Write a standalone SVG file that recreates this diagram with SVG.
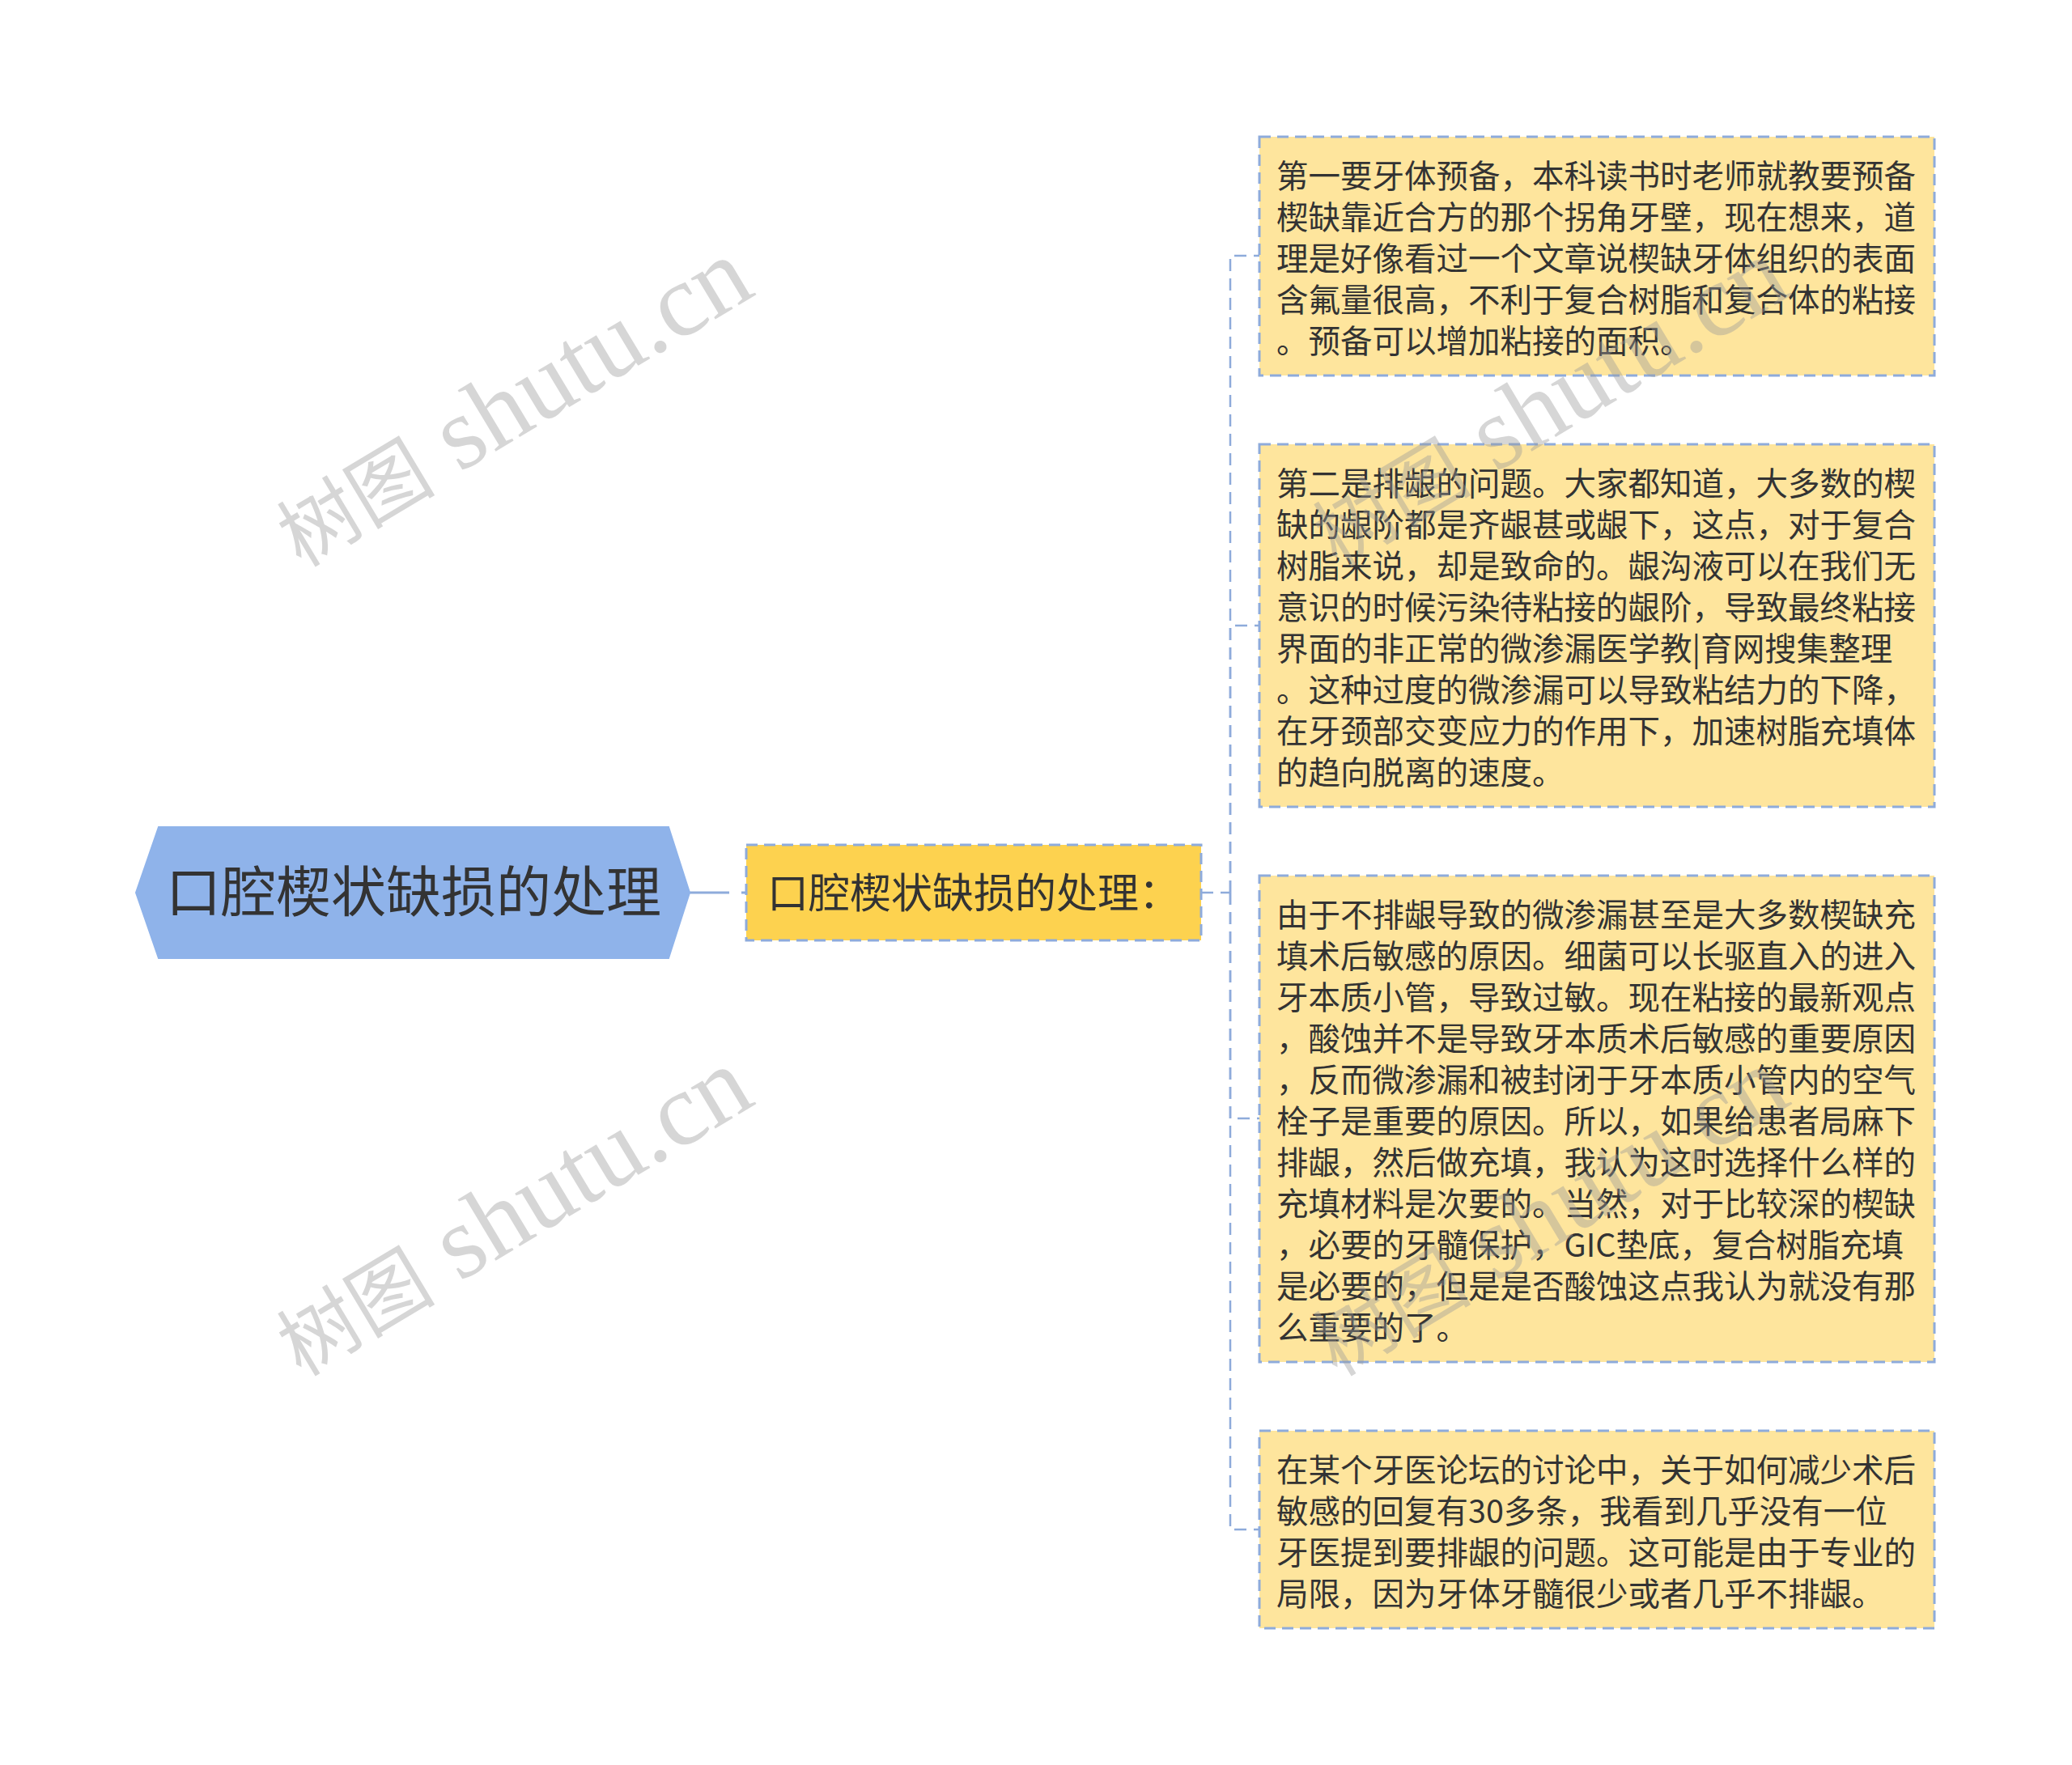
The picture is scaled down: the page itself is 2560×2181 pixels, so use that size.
<svg xmlns="http://www.w3.org/2000/svg" width="2560" height="2181" viewBox="0 0 2560 2181">
<style>
.bg{fill:#ffffff}
.root{fill:#8fb3ea;stroke:#8fb3ea;stroke-width:2}
.mid{fill:#fdd24f;stroke:#8eabdb;stroke-width:3;stroke-dasharray:14 8}
.leaf{fill:#fee59d;stroke:#8eabdb;stroke-width:3;stroke-dasharray:14 8}
.conn{fill:none;stroke:#8eabdb;stroke-width:2.5;stroke-dasharray:15 9}
.t{font-family:"Noto Sans CJK SC","Noto Sans",sans-serif;fill:#333333}
.lt{font-size:39.5px}
.wm{font-family:"Liberation Serif","Noto Sans CJK SC",serif;font-size:128px;fill:#9a9a9a;opacity:0.4}
.wmc{font-family:"Noto Sans CJK SC",serif;font-size:98px}
</style>
<rect class="bg" x="0" y="0" width="2560" height="2181"/>
<g id="connectors">
<path d="M852,1103 H922" fill="none" stroke="#8eabdb" stroke-width="3" stroke-dasharray="49 15"/>
<path class="conn" d="M1484,1103 H1520"/>
<path class="conn" d="M1520,1103 V316 H1556"/>
<path class="conn" d="M1520,1103 V773 H1556"/>
<path class="conn" d="M1520,1103 V1382 H1556"/>
<path class="conn" d="M1520,1103 V1890 H1556"/>
</g>
<g id="root">
<polygon class="root" points="168,1103 196,1022 826,1022 852,1103 826,1184 196,1184"/>
<text class="t" x="511" y="1127" font-size="68" text-anchor="middle">口腔楔状缺损的处理</text>
</g>
<g id="mid">
<rect class="mid" x="922" y="1044" width="562" height="118"/>
<text class="t" x="948" y="1122" font-size="51">口腔楔状缺损的处理：</text>
</g>
<g id="leaf1">
<rect class="leaf" x="1556" y="169" width="834" height="295"/>
<text class="t lt" x="1577" y="232">第一要牙体预备，本科读书时老师就教要预备</text>
<text class="t lt" x="1577" y="283">楔缺靠近合方的那个拐角牙壁，现在想来，道</text>
<text class="t lt" x="1577" y="334">理是好像看过一个文章说楔缺牙体组织的表面</text>
<text class="t lt" x="1577" y="385">含氟量很高，不利于复合树脂和复合体的粘接</text>
<text class="t lt" x="1577" y="436">。预备可以增加粘接的面积。</text>
</g>
<g id="leaf2">
<rect class="leaf" x="1556" y="549" width="834" height="448"/>
<text class="t lt" x="1577" y="612">第二是排龈的问题。大家都知道，大多数的楔</text>
<text class="t lt" x="1577" y="663">缺的龈阶都是齐龈甚或龈下，这点，对于复合</text>
<text class="t lt" x="1577" y="714">树脂来说，却是致命的。龈沟液可以在我们无</text>
<text class="t lt" x="1577" y="765">意识的时候污染待粘接的龈阶，导致最终粘接</text>
<text class="t lt" x="1577" y="816">界面的非正常的微渗漏医学教|育网搜集整理</text>
<text class="t lt" x="1577" y="867">。这种过度的微渗漏可以导致粘结力的下降，</text>
<text class="t lt" x="1577" y="918">在牙颈部交变应力的作用下，加速树脂充填体</text>
<text class="t lt" x="1577" y="969">的趋向脱离的速度。</text>
</g>
<g id="leaf3">
<rect class="leaf" x="1556" y="1082" width="834" height="601"/>
<text class="t lt" x="1577" y="1145">由于不排龈导致的微渗漏甚至是大多数楔缺充</text>
<text class="t lt" x="1577" y="1196">填术后敏感的原因。细菌可以长驱直入的进入</text>
<text class="t lt" x="1577" y="1247">牙本质小管，导致过敏。现在粘接的最新观点</text>
<text class="t lt" x="1577" y="1298">，酸蚀并不是导致牙本质术后敏感的重要原因</text>
<text class="t lt" x="1577" y="1349">，反而微渗漏和被封闭于牙本质小管内的空气</text>
<text class="t lt" x="1577" y="1400">栓子是重要的原因。所以，如果给患者局麻下</text>
<text class="t lt" x="1577" y="1451">排龈，然后做充填，我认为这时选择什么样的</text>
<text class="t lt" x="1577" y="1502">充填材料是次要的。当然，对于比较深的楔缺</text>
<text class="t lt" x="1577" y="1553">，必要的牙髓保护，GIC垫底，复合树脂充填</text>
<text class="t lt" x="1577" y="1604">是必要的，但是是否酸蚀这点我认为就没有那</text>
<text class="t lt" x="1577" y="1655">么重要的了。</text>
</g>
<g id="leaf4">
<rect class="leaf" x="1556" y="1768" width="834" height="244"/>
<text class="t lt" x="1577" y="1831">在某个牙医论坛的讨论中，关于如何减少术后</text>
<text class="t lt" x="1577" y="1882">敏感的回复有30多条，我看到几乎没有一位</text>
<text class="t lt" x="1577" y="1933">牙医提到要排龈的问题。这可能是由于专业的</text>
<text class="t lt" x="1577" y="1984">局限，因为牙体牙髓很少或者几乎不排龈。</text>
</g>
<g id="watermarks">
<text class="wm" transform="translate(372,702) rotate(-31)"><tspan class="wmc">树图</tspan> shutu.cn</text>
<text class="wm" transform="translate(372,1702) rotate(-31)"><tspan class="wmc">树图</tspan> shutu.cn</text>
<text class="wm" transform="translate(1652,702) rotate(-31)"><tspan class="wmc">树图</tspan> shutu.cn</text>
<text class="wm" transform="translate(1652,1702) rotate(-31)"><tspan class="wmc">树图</tspan> shutu.cn</text>
</g>
</svg>
